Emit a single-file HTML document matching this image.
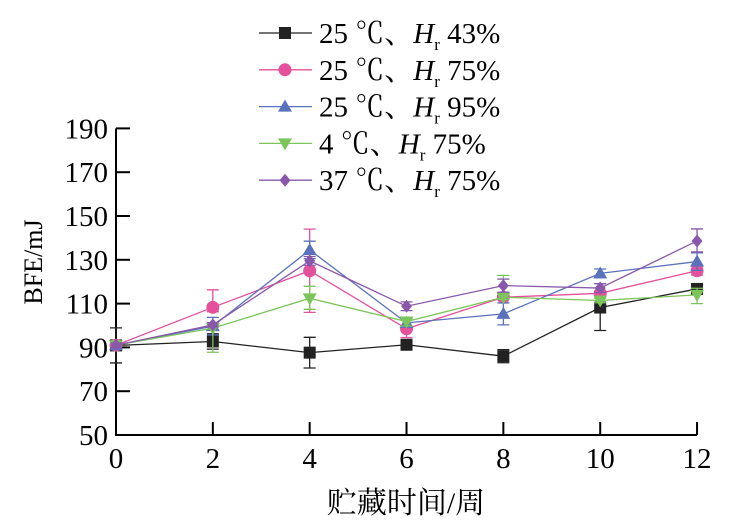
<!DOCTYPE html>
<html><head><meta charset="utf-8"><style>
body{margin:0;background:#fff;}
svg{display:block;font-family:"Liberation Serif","Noto Serif CJK SC",serif;}
</style></head><body>
<svg width="752" height="527" viewBox="0 0 752 527" xmlns="http://www.w3.org/2000/svg">
<g id="plot"></g>
<script>
(function(){
var NS="http://www.w3.org/2000/svg",g=document.getElementById('plot');
function X(t){return 116+t*48.42;}
function Y(v){return 435-(v-50)*2.19;}
function el(n,a,txt){var e=document.createElementNS(NS,n);for(var k in a)e.setAttribute(k,a[k]);if(txt!=null)e.textContent=txt;g.appendChild(e);return e;}
el('path',{d:'M116 128.5 V435 H697',stroke:'#000','stroke-width':2,fill:'none'});
for(var v=50;v<=190;v+=20){var y=Y(v);el('line',{x1:116,x2:130,y1:y,y2:y,stroke:'#000','stroke-width':2});
el('text',{x:108,y:y+10,'text-anchor':'end','font-size':29},v);}
for(var t=0;t<=12;t+=2){var x=X(t);el('line',{x1:x,x2:x,y1:435,y2:422,stroke:'#000','stroke-width':2});
el('text',{x:x,y:468,'text-anchor':'middle','font-size':29},t);}
el('text',{x:406,y:513,'text-anchor':'middle','font-size':30},'贮藏时间/周');
el('text',{x:0,y:0,'text-anchor':'middle','font-size':26,transform:'translate(42,262) rotate(-90)'},'BFE/mJ');
var T=[0,2,4,6,8,10,12];
var S=[
{c:'#222',m:'sq',v:[90.9,92.7,87.6,91.2,86,108.2,116.7],e:[[8,8],[3.5,3.5],[7,7],[1.5,1.5],[3,3],[1,10.5],[2,2]]},
{c:'#e4509c',m:'ci',v:[91,108.3,125,98.5,112.9,114.7,125],e:[[1,1],[8,2],[19,19],[4,4],[1,1],[1,1],[2,2]]},
{c:'#5a72bc',m:'up',v:[91,99.7,134.5,101.2,105.3,123.8,129.2],e:[[1,1],[4,4],[4,4],[2,2],[5,5],[2,2],[4,4]]},
{c:'#7cc55a',m:'dn',v:[91,98.8,112.4,101.8,112.9,111.4,114],e:[[1,1],[1,11],[5.5,5],[2,2],[10,1],[1,1],[3,4]]},
{c:'#8a58aa',m:'di',v:[91,100.3,129.5,108.8,118.2,117.1,138.6],e:[[1,1],[1,1],[2,2],[2,2],[3,3],[2,2],[5.5,5]]}
];
function marker(m,x,y,c){
 if(m=='sq')el('rect',{x:x-6,y:y-6,width:12,height:12,fill:c});
 else if(m=='ci')el('circle',{cx:x,cy:y,r:6.5,fill:c});
 else if(m=='up')el('path',{d:'M'+x+' '+(y-7)+' L'+(x+7)+' '+(y+5)+' L'+(x-7)+' '+(y+5)+'Z',fill:c});
 else if(m=='dn')el('path',{d:'M'+x+' '+(y+7)+' L'+(x+7)+' '+(y-5)+' L'+(x-7)+' '+(y-5)+'Z',fill:c});
 else el('path',{d:'M'+x+' '+(y-6.5)+' L'+(x+5.5)+' '+y+' L'+x+' '+(y+6.5)+' L'+(x-5.5)+' '+y+'Z',fill:c});
}
S.forEach(function(s){
 var d='';
 T.forEach(function(t,i){d+=(i?'L':'M')+X(t)+' '+Y(s.v[i]);});
 el('path',{d:d,stroke:s.c,'stroke-width':1.3,fill:'none'});
 T.forEach(function(t,i){var x=X(t),y1=Y(s.v[i]+s.e[i][0]),y2=Y(s.v[i]-s.e[i][1]);
  el('path',{d:'M'+x+' '+y1+'V'+y2+'M'+(x-6)+' '+y1+'H'+(x+6)+'M'+(x-6)+' '+y2+'H'+(x+6),stroke:s.c,'stroke-width':1.3,fill:'none'});});
 T.forEach(function(t,i){marker(s.m,X(t),Y(s.v[i]),s.c);});
});
var L=[['25 ℃、','43%'],['25 ℃、','75%'],['25 ℃、','95%'],['4 ℃、','75%'],['37 ℃、','75%']];
L.forEach(function(l,i){var y=33+i*36.8,s=S[i];
 el('line',{x1:259,x2:312,y1:y,y2:y,stroke:s.c,'stroke-width':1.3});
 marker(s.m,285,y,s.c);
 var t=el('text',{x:319,y:y+10,'font-size':29});
 var a=document.createElementNS(NS,'tspan');a.textContent=l[0];t.appendChild(a);
 var b=document.createElementNS(NS,'tspan');b.setAttribute('font-style','italic');b.textContent='H';t.appendChild(b);
 var c=document.createElementNS(NS,'tspan');c.setAttribute('font-size',17);c.setAttribute('dy',7);c.textContent='r';t.appendChild(c);
 var d=document.createElementNS(NS,'tspan');d.setAttribute('dy',-7);d.textContent=' '+l[1];t.appendChild(d);
});
})();
</script>
</svg>
</body></html>
